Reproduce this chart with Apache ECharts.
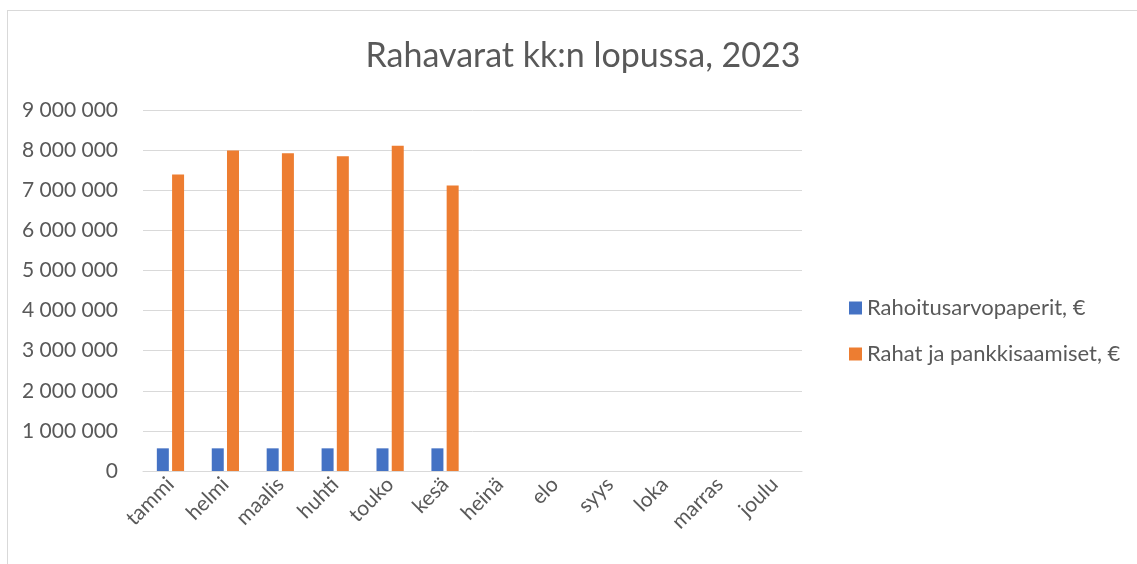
<!DOCTYPE html>
<html>
<head>
<meta charset="utf-8">
<script src="https://cdn.jsdelivr.net/npm/echarts@6/dist/echarts.min.js"></script>
<style>
html,body{margin:0;padding:0;background:#fff;}
#frame{position:absolute;left:7px;top:10px;width:1140px;height:564px;border:1px solid #d9d9d9;box-sizing:border-box;}
#main{position:absolute;left:0;top:0;width:1137px;height:564px;}
</style>
</head>
<body>
<div id="frame"></div>
<div id="main"></div>
<script>
var months = ['tammi','helmi','maalis','huhti','touko','kesä','heinä','elo','syys','loka','marras','joulu'];
var seriesNames = ['Rahoitusarvopaperit, €','Rahat ja pankkisaamiset, €'];
var rahoitusData = [565000, 565000, 565000, 565000, 565000, 565000, null, null, null, null, null, null];
var rahatData = [7390000, 7990000, 7920000, 7850000, 8110000, 7120000, null, null, null, null, null, null];

var myChart = echarts.init(document.getElementById('main'));
var fontFam = 'Lato, "Liberation Sans", sans-serif';

function fmt(v){
    return String(v).replace(/\B(?=(\d{3})+(?!\d))/g, ' ');
}

var option = {
    animation : false,
    title : {
        text: 'Rahavarat kk:n lopussa, 2023',
        left: 578,
        textAlign: 'center',
        top: 34,
        textStyle: { color:'#595959', fontSize:34, fontWeight:'normal', fontFamily:fontFam }
    },
    legend : {
        orient: 'vertical',
        left: 844,
        top: 292,
        itemWidth: 13,
        itemHeight: 13,
        itemGap: 24,
        icon: 'rect',
        textStyle: { color:'#595959', fontSize:22, fontFamily:fontFam },
        data: seriesNames
    },
    grid : { left:143, right:335, top:110, bottom:93, containLabel:false },
    xAxis : [
        {
            type : 'category',
            data : months,
            axisLine : { lineStyle:{ color:'#d9d9d9', width:1 } },
            axisTick : { show:false },
            axisLabel : { rotate:45, color:'#595959', fontSize:21, fontFamily:fontFam, margin:10, interval:0 }
        }
    ],
    yAxis : [
        {
            type : 'value',
            min : 0,
            max : 9000000,
            interval : 1000000,
            axisLine : { show:false },
            axisTick : { show:false },
            splitLine : { lineStyle:{ color:'#d9d9d9', width:1 } },
            axisLabel : { color:'#595959', fontSize:21, fontFamily:fontFam, margin:25, formatter: fmt }
        }
    ],
    series : [
        {
            name: seriesNames[0],
            type: 'bar',
            data: rahoitusData,
            barWidth: 12,
            barGap: '27%',
            itemStyle: { color:'#4472c4' }
        },
        {
            name: seriesNames[1],
            type: 'bar',
            data: rahatData,
            barWidth: 12,
            barGap: '27%',
            itemStyle: { color:'#ed7d31' }
        }
    ]
};
myChart.setOption(option);
</script>
</body>
</html>
